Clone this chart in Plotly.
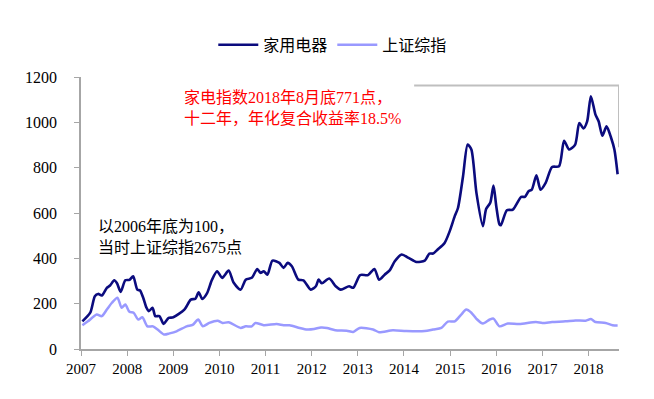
import plotly.graph_objects as go

# 家用电器 (navy) — decimal years and index values
home_x = [2007.03, 2007.2, 2007.3, 2007.37, 2007.45, 2007.56, 2007.63, 2007.72, 2007.78, 2007.86,
          2007.96, 2008.05, 2008.13, 2008.22, 2008.28, 2008.35, 2008.42, 2008.47, 2008.55, 2008.61,
          2008.7, 2008.79, 2008.9, 2009.0, 2009.24, 2009.38, 2009.48, 2009.55, 2009.63, 2009.73,
          2009.84, 2009.95, 2010.06, 2010.2, 2010.31, 2010.46, 2010.57, 2010.7, 2010.82, 2010.89,
          2010.96, 2011.04, 2011.15, 2011.3, 2011.39, 2011.48, 2011.57, 2011.71, 2011.82, 2011.98,
          2012.09, 2012.15, 2012.22, 2012.38, 2012.52, 2012.63, 2012.81, 2012.9, 2013.05, 2013.22,
          2013.36, 2013.46, 2013.58, 2013.69, 2013.8, 2013.95, 2014.1, 2014.27, 2014.45, 2014.55,
          2014.63, 2014.73, 2014.88, 2014.99, 2015.1, 2015.17, 2015.28, 2015.38, 2015.46, 2015.57,
          2015.71, 2015.78, 2015.87, 2015.94, 2016.0, 2016.07, 2016.1, 2016.23, 2016.36, 2016.54,
          2016.62, 2016.7, 2016.77, 2016.87, 2016.96, 2017.07, 2017.21, 2017.36, 2017.47, 2017.58,
          2017.71, 2017.8, 2017.89, 2017.97, 2018.05, 2018.15, 2018.22, 2018.3, 2018.39, 2018.49,
          2018.56, 2018.63]
home_y = [122, 160, 233, 243, 236, 270, 280, 303, 290, 252,
          303, 305, 321, 262, 258, 225, 182, 167, 182, 145,
          145, 111, 137, 140, 174, 218, 222, 250, 221, 245,
          306, 343, 314, 346, 292, 262, 306, 314, 353, 336,
          343, 328, 390, 380, 358, 380, 365, 306, 303, 262,
          277, 306, 290, 311, 277, 262, 277, 270, 326, 326,
          353, 306, 328, 347, 387, 417, 402, 384, 390, 421,
          421, 439, 468, 519, 586, 622, 762, 902, 880, 689,
          542, 618, 645, 721, 630, 549, 546, 612, 615, 671,
          671, 696, 703, 766, 703, 733, 803, 806, 919, 880,
          902, 997, 973, 1004, 1115, 1034, 1004, 941, 982, 931,
          880, 771]

# 上证综指 (light purple)
sh_x = [2007.03, 2007.15, 2007.34, 2007.45, 2007.56, 2007.67, 2007.79, 2007.88, 2007.96, 2008.05,
        2008.14, 2008.24, 2008.33, 2008.44, 2008.56, 2008.66, 2008.8, 2008.92, 2009.07, 2009.29,
        2009.42, 2009.54, 2009.64, 2009.78, 2009.96, 2010.07, 2010.2, 2010.46, 2010.57, 2010.7,
        2010.78, 2010.96, 2011.24, 2011.39, 2011.52, 2011.74, 2011.9, 2012.05, 2012.2, 2012.33,
        2012.51, 2012.76, 2012.9, 2013.04, 2013.33, 2013.46, 2013.76, 2014.05, 2014.45, 2014.63,
        2014.81, 2014.95, 2015.1, 2015.24, 2015.35, 2015.46, 2015.57, 2015.71, 2015.86, 2015.94,
        2016.07, 2016.25, 2016.5, 2016.86, 2017.0, 2017.21, 2017.5, 2017.72, 2017.94, 2018.05,
        2018.15, 2018.37, 2018.52, 2018.63]
sh_y = [105, 122, 152, 145, 174, 204, 226, 182, 196, 164,
        160, 130, 140, 100, 100, 86, 64, 69, 78, 100,
        106, 130, 100, 115, 125, 115, 118, 93, 100, 100,
        115, 105, 110, 105, 105, 93, 86, 88, 95, 93,
        83, 81, 75, 93, 86, 74, 83, 79, 79, 86,
        93, 121, 122, 152, 174, 160, 133, 112, 130, 134,
        100, 112, 110, 119, 115, 119, 122, 126, 125, 132,
        119, 115, 105, 104]

year_ticks = list(range(2007, 2019))
y_ticks = [0, 200, 400, 600, 800, 1000, 1200]

FONT = "Liberation Serif, Noto Sans CJK SC, serif"
AX = "#A6A6A6"

fig = go.Figure()
fig.add_trace(go.Scatter(x=home_x, y=home_y, name="家用电器", mode="lines",
                         line=dict(color="#0B0B7E", width=2.6, shape="spline", smoothing=0.7)))
fig.add_trace(go.Scatter(x=sh_x, y=sh_y, name="上证综指", mode="lines",
                         line=dict(color="#9999FF", width=2.5, shape="spline", smoothing=0.7)))

# gray bracket
fig.add_shape(type="path", xref="x", yref="y",
              path="M 2014.22 1162 L 2018.66 1162 L 2018.66 890",
              line=dict(color="#BFBFBF", width=2))

fig.add_annotation(xref="paper", yref="paper", x=0.188, y=0.886, xanchor="left", yanchor="middle",
                   align="left", showarrow=False,
                   text="家电指数2018年8月底771点，<br>十二年，年化复合收益率18.5%",
                   font=dict(family=FONT, size=16, color="#FF0000"))
fig.add_annotation(xref="paper", yref="paper", x=0.028, y=0.41, xanchor="left", yanchor="middle",
                   align="left", showarrow=False,
                   text="以2006年底为100，<br>当时上证综指2675点",
                   font=dict(family=FONT, size=16, color="#000000"))

fig.update_layout(
    width=638, height=383,
    margin=dict(l=73, r=27, t=69, b=42),
    paper_bgcolor="white", plot_bgcolor="white",
    font=dict(family=FONT, size=16, color="#000000"),
    legend=dict(orientation="h", x=0.468, xanchor="center", y=1.118, yanchor="middle",
                font=dict(family=FONT, size=16), itemwidth=40),
    xaxis=dict(range=[2007, 2018.66], tickvals=year_ticks, ticktext=[str(y) for y in year_ticks],
               showgrid=False, zeroline=False, showline=True, linecolor=AX, linewidth=1.5,
               ticks="outside", ticklen=5, tickcolor=AX, tickfont=dict(size=15)),
    yaxis=dict(range=[0, 1200], tickvals=y_ticks, showgrid=False, zeroline=False,
               showline=True, linecolor=AX, linewidth=1.5, ticks="outside", ticklen=5,
               tickcolor=AX, tickfont=dict(size=16), ticklabelstandoff=14),
)

fig.write_html("out.html")
